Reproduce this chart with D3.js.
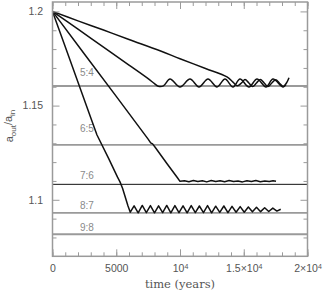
<!DOCTYPE html>
<html>
<head>
<meta charset="utf-8">
<script src="https://cdn.jsdelivr.net/npm/d3@7"></script>
<style>
  html, body { margin: 0; padding: 0; background: #fff; }
  #chart { width: 327px; height: 294px; }
  svg { display: block; }
</style>
</head>
<body>
<div id="chart"></div>
<script>
// resonance levels (period ratio -> a_out/a_in)
const resonanceNames = ['5:4', '6:5', '7:6', '8:7', '9:8'];
const resonanceValues = [1.1604, 1.1292, 1.1082, 1.0931, 1.0817];
const resonanceLabelValues = [1.1657, 1.1360, 1.1110, 1.0951, 1.0834];
const resonanceLabelTime = 2700;

// axis ticks
const timeMajorTicks = [0, 5000, 10000, 15000, 20000];
const timeTickLabels = [['0'], ['5000'], ['10', '4'], ['1.5×10', '4'], ['2×10', '4']];
const timeMinorTicks = d3.range(0, 20001, 1000);
const ratioMajorTicks = [1.1, 1.15, 1.2];
const ratioTickLabels = ['1.1', '1.15', '1.2'];
const ratioMinorTicks = [1.08, 1.09, 1.11, 1.12, 1.13, 1.14, 1.16, 1.17, 1.18, 1.19];

// migration tracks: [time (years), a_out/a_in]
const slowTrack = [
  [0, 1.2], [2000, 1.1950], [4000, 1.1901], [6000, 1.1851], [8431, 1.1791],
  [10000, 1.1749], [12000, 1.1697], [13686, 1.1652], [14157, 1.1625],
  [14500, 1.1605], [14850, 1.1622], [15100, 1.1639], [15400, 1.1620],
  [15700, 1.1601], [16000, 1.1620], [16300, 1.1639], [16600, 1.1620],
  [16900, 1.1601], [17200, 1.1620], [17500, 1.1637], [17800, 1.1619],
  [18100, 1.1601], [18350, 1.1620], [18550, 1.1648]
];
const track54 = [
  [0, 1.2], [2000, 1.1906], [4000, 1.1810], [6000, 1.1715], [7500, 1.1643],
  [8000, 1.1617], [8300, 1.1603], [8700, 1.1605], [9216, 1.1641], [10000, 1.1599],
  [10784, 1.1641], [11490, 1.1599], [12196, 1.1641], [12902, 1.1599],
  [13529, 1.1641], [14157, 1.1599], [14706, 1.1641], [15412, 1.1599],
  [16039, 1.1641], [16745, 1.1599], [17294, 1.1641], [18078, 1.1599], [18300, 1.1610]
];
const track76 = [
  [0, 1.2], [2500, 1.1774], [5000, 1.1549], [7500, 1.1322], [7700, 1.1302],
  [7850, 1.1297], [8050, 1.1279], [9000, 1.1190], [9800, 1.1117], [10000, 1.1098],
  [10350, 1.1101], [10700, 1.1096], [11050, 1.1102], [11400, 1.1097], [11750, 1.1101],
  [12100, 1.1095], [12450, 1.1102], [12800, 1.1097], [13150, 1.1101], [13500, 1.1096],
  [13850, 1.1102], [14200, 1.1097], [14550, 1.1100], [14900, 1.1095], [15250, 1.1101],
  [15600, 1.1097], [15950, 1.1102], [16300, 1.1096], [16650, 1.1100], [17000, 1.1097],
  [17300, 1.1101], [17530, 1.1098]
];
const track87 = [
  [0, 1.2], [1000, 1.1812], [2000, 1.1624], [3000, 1.1436], [3490, 1.1344],
  [4400, 1.1220], [5100, 1.1120], [5294, 1.1095], [5500, 1.1060], [5922, 1.0967],
  [6100, 1.0934], [6400, 1.0968], [6720, 1.0931], [7040, 1.0970], [7360, 1.0932],
  [7680, 1.0969], [8000, 1.0931], [8320, 1.0968], [8640, 1.0932], [8960, 1.0970],
  [9280, 1.0931], [9600, 1.0969], [9920, 1.0932], [10240, 1.0968], [10560, 1.0931],
  [10880, 1.0969], [11200, 1.0932], [11520, 1.0967], [11840, 1.0932], [12160, 1.0969],
  [12480, 1.0931], [12800, 1.0966], [13120, 1.0933], [13440, 1.0967], [13760, 1.0932],
  [14080, 1.0965], [14400, 1.0934], [14720, 1.0964], [15040, 1.0934], [15360, 1.0962],
  [15680, 1.0936], [16000, 1.0960], [16320, 1.0937], [16640, 1.0958], [16960, 1.0938],
  [17280, 1.0956], [17600, 1.0940], [17900, 1.0950]
];

const margin = Object.freeze({ top: 2, right: 19.5, bottom: 37.7, left: 52.5 });
const frameColor = '#9a9a9a';
const textColor = '#555';

class ResonanceChart {
  constructor (el) {
    this.el = el;
  }

  createChart () {
    this._setSize();
    this._createSvg();
    this._prepareScales();
    this._drawResonances();
    this._drawTracks();
    this._drawFrame();
    this._drawAxes();
    this._drawTitles();
    return this;
  }

  _setSize () {
    this.width = this.el.clientWidth;
    this.height = this.el.clientHeight;
    this.w = this.width - margin.left - margin.right;
    this.h = this.height - margin.top - margin.bottom;
  }

  _createSvg () {
    this.svg = d3.select(this.el).append('svg')
      .attr('width', this.width)
      .attr('height', this.height);
    this.g = this.svg.append('g')
      .attr('transform', `translate(${margin.left}, ${margin.top})`);
  }

  _prepareScales () {
    this.x = d3.scaleLinear().domain([0, 20000]).range([0, this.w]);
    this.y = d3.scaleLinear().domain([1.07, 1.205]).range([this.h, 0]);
  }

  _drawResonances () {
    const lines = this.g.append('g').attr('class', 'resonances');
    resonanceValues.forEach((v, i) => {
      const isBlack = resonanceNames[i] === '7:6';
      lines.append('line')
        .attr('x1', 0)
        .attr('x2', this.w)
        .attr('y1', this.y(v))
        .attr('y2', this.y(v))
        .attr('stroke', isBlack ? '#111' : '#9a9a9a')
        .attr('stroke-width', isBlack ? 1 : 1.8);
      lines.append('text')
        .attr('x', this.x(resonanceLabelTime))
        .attr('y', this.y(resonanceLabelValues[i]))
        .attr('text-anchor', 'middle')
        .attr('font-family', 'Liberation Sans, Arial, sans-serif')
        .attr('font-size', '10px')
        .attr('fill', '#8a8a8a')
        .text(resonanceNames[i]);
    });
  }

  _drawTracks () {
    const smooth = d3.line()
      .x(d => this.x(d[0]))
      .y(d => this.y(d[1]))
      .curve(d3.curveCatmullRom.alpha(0.5));
    const straight = d3.line()
      .x(d => this.x(d[0]))
      .y(d => this.y(d[1]));

    [[slowTrack, smooth], [track54, smooth], [track76, straight], [track87, straight]]
      .forEach(([data, gen]) => {
        this.g.append('path')
          .datum(data)
          .attr('d', gen)
          .attr('fill', 'none')
          .attr('stroke', '#111')
          .attr('stroke-width', 1.5)
          .attr('stroke-linejoin', 'round');
      });
  }

  _drawFrame () {
    this.g.append('rect')
      .attr('x', 0)
      .attr('y', 0)
      .attr('width', this.w)
      .attr('height', this.h)
      .attr('fill', 'none')
      .attr('stroke', frameColor)
      .attr('stroke-width', 1.5);
  }

  _styleAxis (sel) {
    sel.select('.domain').remove();
    sel.selectAll('line').attr('stroke', frameColor).attr('stroke-width', 1);
    sel.selectAll('text')
      .attr('fill', textColor)
      .attr('font-family', 'Liberation Sans, Arial, sans-serif')
      .attr('font-size', '10.5px');
  }

  _drawAxes () {
    const blank = () => '';

    // minor ticks on all four sides
    this.g.append('g').attr('transform', `translate(0, ${this.h})`)
      .call(d3.axisBottom(this.x).tickValues(timeMinorTicks).tickSize(-4).tickFormat(blank))
      .call(s => this._styleAxis(s));
    this.g.append('g')
      .call(d3.axisTop(this.x).tickValues(timeMinorTicks).tickSize(-4).tickFormat(blank))
      .call(s => this._styleAxis(s));
    this.g.append('g')
      .call(d3.axisLeft(this.y).tickValues(ratioMinorTicks).tickSize(-4).tickFormat(blank))
      .call(s => this._styleAxis(s));
    this.g.append('g').attr('transform', `translate(${this.w}, 0)`)
      .call(d3.axisRight(this.y).tickValues(ratioMinorTicks).tickSize(-4).tickFormat(blank))
      .call(s => this._styleAxis(s));

    // major ticks
    const bottom = this.g.append('g').attr('transform', `translate(0, ${this.h})`)
      .call(d3.axisBottom(this.x).tickValues(timeMajorTicks).tickSize(-7).tickPadding(8).tickFormat(blank))
      .call(s => this._styleAxis(s));
    bottom.selectAll('.tick text').each(function (d, i) {
      const parts = timeTickLabels[i];
      const t = d3.select(this);
      t.append('tspan').text(parts[0]);
      if (parts[1]) {
        t.append('tspan').attr('dy', '-0.45em').attr('font-size', '7px').text(parts[1]);
      }
    });
    this.g.append('g')
      .call(d3.axisTop(this.x).tickValues(timeMajorTicks).tickSize(-7).tickFormat(blank))
      .call(s => this._styleAxis(s));
    this.g.append('g')
      .call(d3.axisLeft(this.y).tickValues(ratioMajorTicks).tickSize(-7).tickPadding(9.5)
        .tickFormat((d, i) => ratioTickLabels[i]))
      .call(s => this._styleAxis(s));
    this.g.append('g').attr('transform', `translate(${this.w}, 0)`)
      .call(d3.axisRight(this.y).tickValues(ratioMajorTicks).tickSize(-7).tickFormat(blank))
      .call(s => this._styleAxis(s));
  }

  _drawTitles () {
    this.g.append('text')
      .attr('x', this.w / 2)
      .attr('y', this.h + 32)
      .attr('text-anchor', 'middle')
      .attr('font-family', 'DejaVu Serif, serif')
      .attr('font-size', '11.5px')
      .attr('fill', textColor)
      .text('time (years)');

    const yt = this.svg.append('text')
      .attr('transform', `translate(13, 126) rotate(-90)`)
      .attr('text-anchor', 'middle')
      .attr('font-family', 'Liberation Sans, Arial, sans-serif')
      .attr('font-size', '11px')
      .attr('fill', textColor);
    yt.append('tspan').text('a');
    yt.append('tspan').attr('dy', '0.35em').attr('font-size', '8px').text('out');
    yt.append('tspan').attr('dy', '-0.35em').text('/a');
    yt.append('tspan').attr('dy', '0.35em').attr('font-size', '8px').text('in');
  }
}

new ResonanceChart(document.getElementById('chart')).createChart();
</script>
</body>
</html>
